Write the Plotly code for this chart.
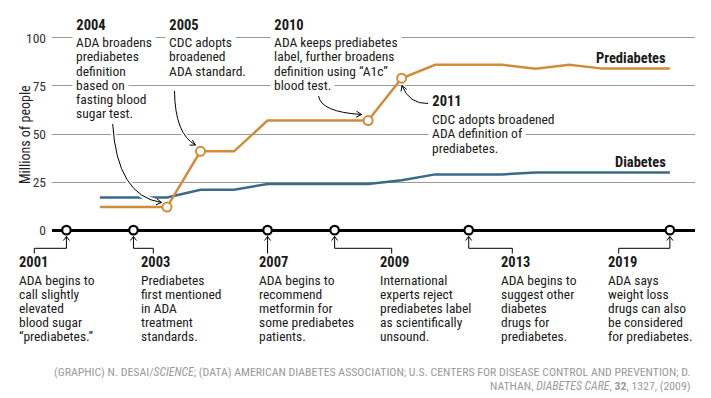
import math
import plotly.graph_objects as go

# ---------------- data ----------------
years = list(range(2002, 2020))
prediabetes = [12, 12, 12, 41, 41, 57, 57, 57, 57, 79, 86, 86, 86, 84, 86, 84, 84, 84]
diabetes = [17, 17, 17, 21, 21, 24, 24, 24, 24, 26, 29, 29, 29, 30, 30, 30, 30, 30]

marked_years = [2004, 2005, 2010, 2011]
timeline_years = [2001, 2003, 2007, 2009, 2013, 2019]
y_ticks = [0, 25, 50, 75, 100]
y_tick_labels = ["0", "25", "50", "75", "100"]

top_titles = ["2004", "2005", "2010", "2011"]
top_texts = [
    ["ADA broadens", "prediabetes", "definition", "based on", "fasting blood", "sugar test."],
    ["CDC adopts", "broadened", "ADA standard."],
    ["ADA keeps prediabetes", "label, further broadens", "definition using \u201cA1c\u201d", "blood test."],
    ["CDC adopts broadened", "ADA definition of", "prediabetes."],
]
bottom_titles = ["2001", "2003", "2007", "2009", "2013", "2019"]
bottom_texts = [
    ["ADA begins to", "call slightly", "elevated", "blood sugar", "\u201cprediabetes.\u201d"],
    ["Prediabetes", "first mentioned", "in ADA", "treatment", "standards."],
    ["ADA begins to", "recommend", "metformin for", "some prediabetes", "patients."],
    ["International", "experts reject", "prediabetes label", "as scientifically", "unsound."],
    ["ADA begins to", "suggest other", "diabetes", "drugs for", "prediabetes."],
    ["ADA says", "weight loss", "drugs can also", "be considered", "for prediabetes."],
]
series_names = ["Prediabetes", "Diabetes"]
y_title = "Millions of people"
footer_lines = [
    "(GRAPHIC) N. DESAI/<i>SCIENCE</i>; (DATA) AMERICAN DIABETES ASSOCIATION; U.S. CENTERS FOR DISEASE CONTROL AND PREVENTION; D.",
    "NATHAN, <i>DIABETES CARE</i>, <b>32</b>, 1327, (2009)",
]

# ---------------- layout / style ----------------
W, H = 711, 398
L, R, T, B = 52, 695, 34, 234
XR = [2000.57, 2019.75]
YR = [-2, 102]
FONT = "Roboto Condensed, Liberation Sans Narrow, Arial Narrow, Roboto, sans-serif"
ORANGE = "#D08C3C"
BLUE = "#3B6A88"
TXT = "#1a1a1a"
BODY = 13.5
TITLE = 14.5
NBSP = "\u00a0"
SPACE_W = 3.1


def xpix(year):
    return L + (year - XR[0]) / (XR[1] - XR[0]) * (R - L)


def pxp(x):
    return (x - L) / (R - L)


def pyp(y):
    return (B - y) / (B - T)


fig = go.Figure()
fig.add_trace(go.Scatter(x=years, y=diabetes, mode="lines",
                         line=dict(color=BLUE, width=2.5), hoverinfo="skip"))
fig.add_trace(go.Scatter(x=years, y=prediabetes, mode="lines",
                         line=dict(color=ORANGE, width=2.5), hoverinfo="skip"))
fig.add_trace(go.Scatter(x=marked_years,
                         y=[prediabetes[years.index(v)] for v in marked_years],
                         mode="markers", cliponaxis=False,
                         marker=dict(size=9, color="white", line=dict(color=ORANGE, width=2))))
fig.add_trace(go.Scatter(x=timeline_years, y=[0] * len(timeline_years),
                         mode="markers", cliponaxis=False,
                         marker=dict(size=8.5, color="white", line=dict(color="black", width=2.2))))

annotations = []
shapes = []


def make_text(x, y, text, size=BODY, color=TXT, anchor="left", bg=False, bold=False):
    if bold:
        text = "<b>" + text + "</b>"
    if bg:
        text = NBSP + text + NBSP
        x -= SPACE_W
    a = dict(xref="paper", yref="paper", x=pxp(x), y=pyp(y), text=text,
             showarrow=False, xanchor=anchor, yanchor="middle", align=anchor,
             font=dict(family=FONT, size=size, color=color))
    if bg:
        a["bgcolor"] = "white"
        a["borderpad"] = 0
    return a


# top annotations (x, title y, first line y); lines added bottom-up so that
# each white backing box only covers the empty top of the line below it
top_pos = [(75, 25.7, 42.3), (168.3, 25.7, 42.3), (272.7, 25.7, 42.3), (431, 101.7, 119.3)]
for (x, ty, ly), title, lines in zip(top_pos, top_titles, top_texts):
    block = [make_text(x, ty, title, size=TITLE, bold=True, bg=True)]
    for i, s in enumerate(lines):
        block.append(make_text(x, ly + 14.15 * i, s, bg=True))
    annotations.extend(block[::-1])

# curved arrows (start, control, end) in pixels
arrows = [
    ((112.7, 124), (117, 196), (161.5, 202.5)),
    ((174.5, 91), (175, 134), (195.5, 145)),
    ((318.5, 96), (321, 112), (361.5, 114.5)),
    ((428, 103.5), (409, 104), (402, 85.5)),
]
for (s, c, e) in arrows:
    path = "M {},{} Q {},{} {},{}".format(pxp(s[0]), pyp(s[1]), pxp(c[0]), pyp(c[1]),
                                          pxp(e[0]), pyp(e[1]))
    shapes.append(dict(type="path", xref="paper", yref="paper", path=path,
                       line=dict(color="white", width=5)))
for (s, c, e) in arrows:
    path = "M {},{} Q {},{} {},{}".format(pxp(s[0]), pyp(s[1]), pxp(c[0]), pyp(c[1]),
                                          pxp(e[0]), pyp(e[1]))
    shapes.append(dict(type="path", xref="paper", yref="paper", path=path,
                       line=dict(color="black", width=1)))
    ang = math.atan2(e[1] - c[1], e[0] - c[0])
    pts = []
    for d in (math.radians(150), -math.radians(150)):
        pts.append((e[0] + 6 * math.cos(ang + d), e[1] + 6 * math.sin(ang + d)))
    hp = "M {},{} L {},{} L {},{}".format(pxp(pts[0][0]), pyp(pts[0][1]), pxp(e[0]), pyp(e[1]),
                                          pxp(pts[1][0]), pyp(pts[1][1]))
    shapes.append(dict(type="path", xref="paper", yref="paper", path=hp,
                       line=dict(color="black", width=1)))

# series labels
annotations.append(make_text(668, 58.5, series_names[0], size=TITLE, anchor="right", bold=True))
annotations.append(make_text(668, 162.5, series_names[1], size=TITLE, anchor="right", bold=True))

# bottom annotations and elbow connectors
bottom_x = [16.7, 139.3, 257.3, 378.3, 499, 606]
corner_x = [34.3, 153.3, None, 391.7, 512.3, 618.7]
for yr, x, cx, title, lines in zip(timeline_years, bottom_x, corner_x, bottom_titles, bottom_texts):
    annotations.append(make_text(x, 262.7, title, size=TITLE, bold=True))
    for i, s in enumerate(lines):
        annotations.append(make_text(x, 280 + 14 * i, s))
    xc = xpix(yr)
    if cx is None:
        p = "M {},{} L {},{}".format(pxp(xc), pyp(236.5), pxp(xc), pyp(253.5))
    else:
        p = "M {},{} L {},{} L {},{} L {},{}".format(pxp(xc), pyp(236.5), pxp(xc), pyp(248.3),
                                                      pxp(cx), pyp(248.3), pxp(cx), pyp(253.5))
    shapes.append(dict(type="path", xref="paper", yref="paper", path=p,
                       line=dict(color="black", width=1)))
    hp = "M {},{} L {},{} L {},{}".format(pxp(xc - 3), pyp(240.5), pxp(xc), pyp(236.5),
                                          pxp(xc + 3), pyp(240.5))
    shapes.append(dict(type="path", xref="paper", yref="paper", path=hp,
                       line=dict(color="black", width=1)))

# y-axis title
annotations.append(dict(xref="paper", yref="paper", x=pxp(25), y=pyp(135), text=y_title,
                        textangle=-90, showarrow=False, xanchor="center", yanchor="middle",
                        font=dict(family=FONT, size=14, color="#222")))

# footer
annotations.append(make_text(693, 371.7, footer_lines[0], size=11.8, color="#9a9a9a", anchor="right"))
annotations.append(make_text(693, 385.7, footer_lines[1], size=11.8, color="#9a9a9a", anchor="right"))

fig.update_layout(
    width=W, height=H, autosize=False,
    margin=dict(l=L, r=W - R, t=T, b=H - B, pad=0),
    paper_bgcolor="white", plot_bgcolor="white",
    showlegend=False,
    font=dict(family=FONT, color=TXT),
    xaxis=dict(range=XR, visible=False, fixedrange=True),
    yaxis=dict(range=YR, tickvals=y_ticks, ticktext=y_tick_labels,
               showgrid=True, gridcolor="#9a9a9a", gridwidth=1,
               zeroline=True, zerolinecolor="black", zerolinewidth=3,
               showline=False, ticks="", ticklabelstandoff=5,
               tickfont=dict(family=FONT, size=13.5, color="#333"), fixedrange=True),
    annotations=annotations,
    shapes=shapes,
)

fig.write_html("out.html", config={"displayModeBar": False},
               post_script="document.body.style.margin='0';document.body.style.overflow='hidden';")
